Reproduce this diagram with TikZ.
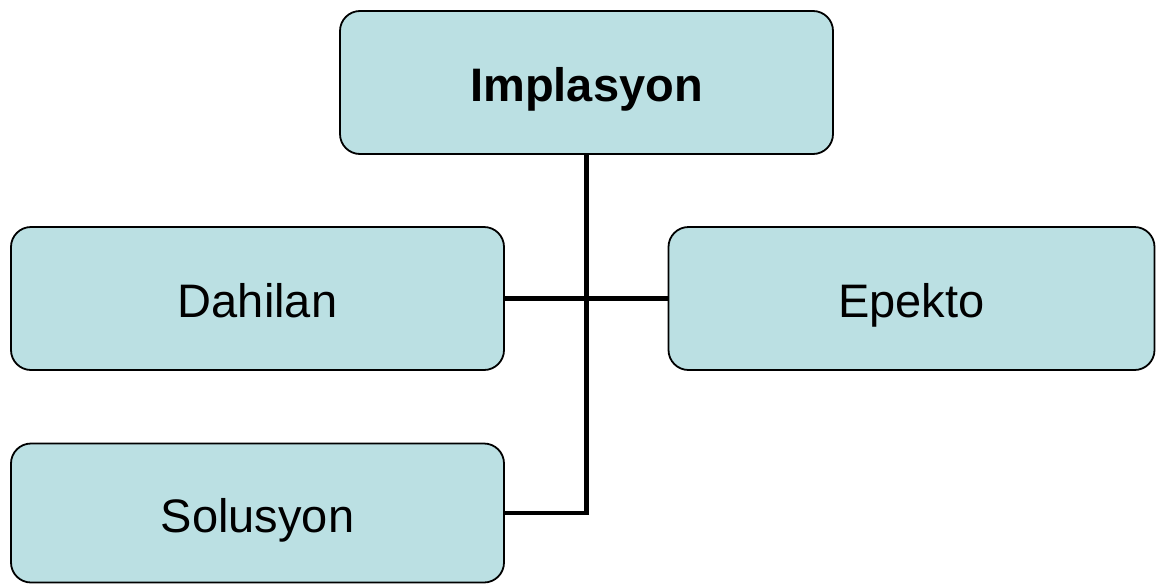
\documentclass[tikz,border=0pt]{standalone}
\usepackage{fontspec}
\setmainfont{Liberation Sans}
\definecolor{boxfill}{HTML}{BBE0E3}
\begin{document}
\begin{tikzpicture}[x=1pt,y=-1pt,
  cbox/.style={draw=black, line width=1.8pt, fill=boxfill, rounded corners=20pt,
    minimum width=493pt, minimum height=143pt, outer sep=0pt, inner sep=0pt,
    text height=38pt, text depth=0pt,
    font=\fontsize{47}{56}\selectfont},
  conn/.style={line width=4.5pt, draw=black}]
\useasboundingbox (0,0) rectangle (1156,584);
\node[cbox, font=\bfseries\fontsize{47}{56}\selectfont] (top) at (586.5,82.5) {Implasyon};
\node[cbox] (dah) at (257.5,298.5) {Dahilan};
\node[cbox, minimum width=486pt] (epe) at (911.5,298.5) {Epekto};
\node[cbox, minimum height=139pt] (sol) at (257.5,513) {Solusyon};
\draw[conn] (dah.east) -- (epe.west);
\draw[conn] (top.south) |- (sol.east);
\end{tikzpicture}
\end{document}
